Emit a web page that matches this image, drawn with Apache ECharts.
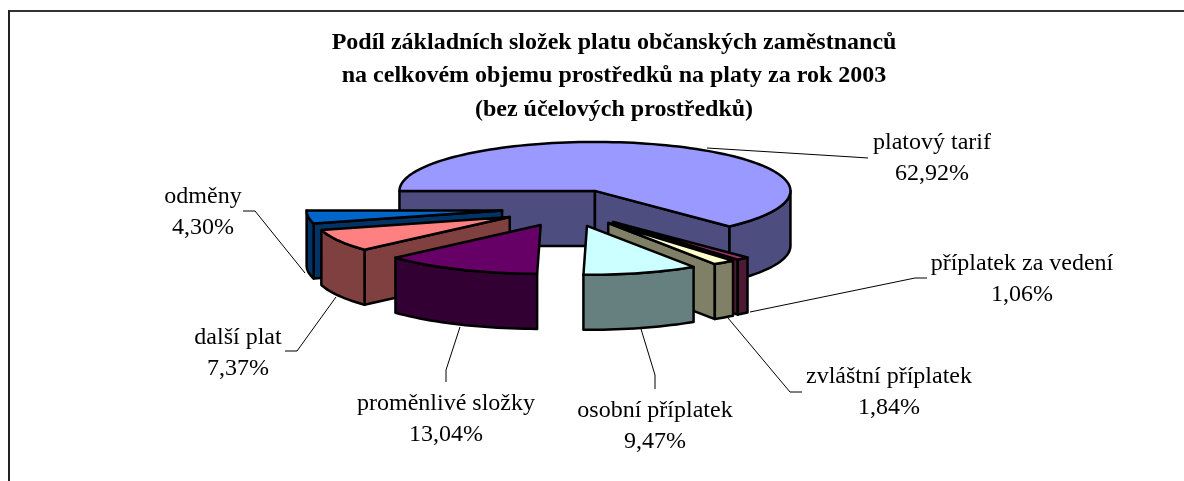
<!DOCTYPE html>
<html>
<head>
<meta charset="utf-8">
<style>
  html, body { margin: 0; padding: 0; background: #fff; }
  #chart { width: 1184px; height: 481px; }
</style>
<script src="https://cdn.jsdelivr.net/npm/echarts@6/dist/echarts.min.js"></script>
</head>
<body>
<div id="chart"></div>
<script>
// values, clockwise from the 9 o'clock position
var names = ['platový tarif', 'příplatek za vedení', 'zvláštní příplatek', 'osobní příplatek', 'proměnlivé složky', 'další plat', 'odměny'];
var shares = [62.92, 1.06, 1.84, 9.47, 13.04, 7.37, 4.30];
var topColors = ['#9999ff', '#993366', '#ffffcc', '#ccffff', '#660066', '#ff8080', '#0066cc'];
var sideColors = ['#4d4d80', '#4d1a33', '#808066', '#668080', '#330033', '#804040', '#003366'];

// back to front
var drawOrder = [0, 6, 5, 4, 1, 2, 3];

// label centres and leader lines, same order as names
var labelPos = [[932, 143], [1022, 264], [889, 377], [655, 411], [446, 404], [238, 338], [203, 197]];
var leaders = [
  [[868, 158], [853, 157], [707, 148]],
  [[927, 278], [915, 278], [750, 312]],
  [[802, 392], [790, 392], [728, 318]],
  [[655, 389], [655, 375], [641, 329]],
  [[446, 382], [446, 370], [460, 327]],
  [[285, 351], [297, 351], [336, 297]],
  [[243, 211], [255, 211], [305, 273]]
];

var pie = { cx: 568.5, cy: 208, rx: 195.5, ry: 49, depth: 55, explodeX: 67, explodeY: 18.6, start: 270 };
var labelFont = '"Liberation Serif", "Times New Roman", serif';

var total = shares.reduce(function (a, b) { return a + b; }, 0);
var slices = [];
var acc = pie.start;
shares.forEach(function (v) {
  var span = v / total * 360;
  slices.push({ from: acc, to: acc + span });
  acc += span;
});

function rad(d) { return d * Math.PI / 180; }

function arcPoints(ox, oy, from, to, dy) {
  var pts = [];
  var n = Math.max(2, Math.ceil((to - from) / 2));
  for (var i = 0; i <= n; i++) {
    var a = rad(from + (to - from) * i / n);
    pts.push([ox + Math.sin(a) * pie.rx, oy - Math.cos(a) * pie.ry + dy]);
  }
  return pts;
}

function poly(points, fill) {
  return {
    type: 'polygon',
    shape: { points: points },
    style: { fill: fill, stroke: '#000', lineWidth: 2.5, lineJoin: 'round' }
  };
}

function renderSlice(params) {
  var i = drawOrder[params.dataIndex];
  var s = slices[i];
  var mid = rad((s.from + s.to) / 2);
  var ox = pie.cx + Math.sin(mid) * pie.explodeX;
  var oy = pie.cy - Math.cos(mid) * pie.explodeY;
  var side = sideColors[i];
  var children = [];

  // leader line first, the solid sits on top of its end
  children.push({
    type: 'polyline',
    shape: { points: leaders[i] },
    style: { fill: null, stroke: '#000', lineWidth: 1 }
  });

  // cut faces that look toward the viewer, skip ones seen almost edge on
  [s.from, s.to].forEach(function (edge, k) {
    var sn = Math.sin(rad(edge));
    if ((k === 0 && sn < -0.05) || (k === 1 && sn > 0.05)) {
      var rim = arcPoints(ox, oy, edge, edge, 0)[0];
      children.push(poly([[ox, oy], rim, [rim[0], rim[1] + pie.depth], [ox, oy + pie.depth]], side));
    }
  });

  // outer wall, only the front half of the rim
  [[90, 270], [450, 630]].forEach(function (w) {
    var a = Math.max(s.from, w[0]);
    var b = Math.min(s.to, w[1]);
    if (b > a) {
      var upper = arcPoints(ox, oy, a, b, 0);
      var lower = arcPoints(ox, oy, a, b, pie.depth).reverse();
      children.push(poly(upper.concat(lower), side));
    }
  });

  // top face
  children.push(poly([[ox, oy]].concat(arcPoints(ox, oy, s.from, s.to, 0)), topColors[i]));

  // two line label
  var pos = labelPos[i];
  children.push({
    type: 'text',
    x: pos[0], y: pos[1],
    style: { text: names[i], font: '24px ' + labelFont, fill: '#000', textAlign: 'center', textVerticalAlign: 'middle' }
  });
  children.push({
    type: 'text',
    x: pos[0], y: pos[1] + 31,
    style: { text: shares[i].toFixed(2).replace('.', ',') + '%', font: '24px ' + labelFont, fill: '#000', textAlign: 'center', textVerticalAlign: 'middle' }
  });

  return { type: 'group', children: children };
}

var myChart = echarts.init(document.getElementById('chart'));

var option = {
  backgroundColor: '#fff',
  animation: false,
  title: {
    text: 'Podíl základních složek platu občanských zaměstnanců\nna celkovém objemu prostředků na platy za rok 2003\n(bez účelových prostředků)',
    left: 609,
    top: 21,
    textAlign: 'center',
    textStyle: {
      color: '#000',
      fontFamily: labelFont,
      fontSize: 24,
      fontWeight: 'bold',
      lineHeight: 33.5
    }
  },
  graphic: [
    { type: 'line', shape: { x1: 8, y1: 11, x2: 1184, y2: 11 }, style: { stroke: '#333', lineWidth: 2 } },
    { type: 'line', shape: { x1: 9, y1: 10, x2: 9, y2: 481 }, style: { stroke: '#222', lineWidth: 2 } }
  ],
  series: [{
    type: 'custom',
    coordinateSystem: 'none',
    silent: true,
    renderItem: renderSlice,
    data: drawOrder.map(function (i) { return shares[i]; })
  }]
};

myChart.setOption(option, true);
</script>
</body>
</html>
